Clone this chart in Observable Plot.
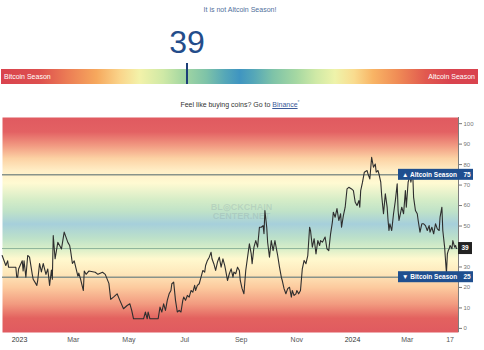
<!DOCTYPE html>
<html><head><meta charset="utf-8">
<script src="https://cdn.jsdelivr.net/npm/d3@7"></script>
<script src="https://cdn.jsdelivr.net/npm/@observablehq/plot@0.6"></script>
<style>
body{margin:0;background:#fff;font-family:Arial,"Liberation Sans",sans-serif;width:484px;height:350px;overflow:hidden}
#head{position:relative;height:112px;width:484px}
.t1{position:absolute;top:5px;left:0;width:480px;text-align:center;font-size:7px;color:#4f6f9c;line-height:10px}
.big{position:absolute;top:26px;font-size:32px;line-height:32px;color:#234c8a;transform:translateX(-50%)}
.bar{position:absolute;top:69px;left:1px;width:477px;height:15px;
 background:linear-gradient(to right,#d9434e 0%,#dd4f4e 8%,#ec7d55 14%,#f6a85d 20%,#fad58b 25%,#f3f2a9 29%,#cfe9a6 34%,#a6d8a2 38%,#7ec3a8 43%,#55a7b8 47%,#3f95c1 50%,#55a7b8 53%,#7ec3a8 57%,#a6d8a2 62%,#cfe9a6 66%,#eef3aa 70%,#f9dc8f 74%,#f8b465 78%,#f08d56 83%,#e1594f 89%,#d9434e 94%,#d9434e 100%)}
.bar span{position:absolute;top:0;font-size:7px;line-height:15px;color:#fff}
.bar .l{left:3px}.bar .r{right:3px}
.marker{position:absolute;top:63px;width:2px;height:21px;background:#1c3f78;transform:translateX(-50%)}
.t2{position:absolute;top:97px;left:0;width:480px;text-align:center;font-size:7px;color:#333;line-height:10px}
.t2 u{color:#3a5a99}
.t2 sup{font-size:5px;color:#6a8ab0}
#chart svg{display:block}
</style></head><body>
<div id="head">
 <div class="t1">It is not Altcoin Season!</div>
 <div class="big" id="big"></div>
 <div class="bar"><span class="l">Bitcoin Season</span><span class="r">Altcoin Season</span></div>
 <div class="marker" id="marker"></div>
 <div class="t2">Feel like buying coins? Go to <u>Binance</u><sup>*</sup></div>
</div>
<div id="chart"></div>
<script>
const dates = ["2022-12-13","2022-12-17","2022-12-19","2022-12-20","2022-12-28","2022-12-29","2022-12-30","2022-12-31",
"2023-01-04","2023-01-05","2023-01-06","2023-01-08","2023-01-10","2023-01-12","2023-01-15","2023-01-16","2023-01-20","2023-01-21","2023-01-23","2023-01-25","2023-01-27","2023-01-30",
"2023-02-01","2023-02-03","2023-02-05","2023-02-06","2023-02-07","2023-02-09","2023-02-12","2023-02-14","2023-02-16","2023-02-19","2023-02-23","2023-02-25","2023-02-26","2023-02-28",
"2023-03-02","2023-03-06","2023-03-07","2023-03-09","2023-03-12","2023-03-13","2023-03-15","2023-03-18","2023-03-25","2023-03-28",
"2023-04-02","2023-04-05","2023-04-09","2023-04-11","2023-04-14","2023-04-18","2023-04-21","2023-04-25","2023-04-29",
"2023-05-02","2023-05-04","2023-05-06","2023-05-17","2023-05-19","2023-05-21","2023-05-22","2023-05-24",
"2023-06-02","2023-06-04","2023-06-06","2023-06-08","2023-06-10","2023-06-12","2023-06-14","2023-06-16","2023-06-17","2023-06-19","2023-06-21","2023-06-23","2023-06-25","2023-06-27","2023-06-29","2023-06-30",
"2023-07-02","2023-07-04","2023-07-06","2023-07-08","2023-07-10","2023-07-12","2023-07-13","2023-07-15","2023-07-17","2023-07-19","2023-07-21","2023-07-23","2023-07-24","2023-07-26","2023-07-28","2023-07-30","2023-07-31",
"2023-08-02","2023-08-04","2023-08-06","2023-08-08","2023-08-10","2023-08-12","2023-08-14","2023-08-15","2023-08-17","2023-08-19","2023-08-21","2023-08-23","2023-08-24","2023-08-26","2023-08-28","2023-08-30","2023-08-31",
"2023-09-02","2023-09-04","2023-09-06","2023-09-08","2023-09-10","2023-09-12","2023-09-13","2023-09-15","2023-09-17","2023-09-19","2023-09-21","2023-09-23","2023-09-25","2023-09-26","2023-09-27","2023-09-29","2023-09-30",
"2023-10-02","2023-10-04","2023-10-06","2023-10-08","2023-10-10","2023-10-11","2023-10-13","2023-10-15","2023-10-16","2023-10-18","2023-10-20","2023-10-22","2023-10-24","2023-10-26","2023-10-27","2023-10-29","2023-10-31",
"2023-11-01","2023-11-03","2023-11-05","2023-11-07","2023-11-09","2023-11-11","2023-11-13","2023-11-15","2023-11-16","2023-11-18","2023-11-20","2023-11-22","2023-11-24","2023-11-26","2023-11-27","2023-11-29","2023-11-30",
"2023-12-02","2023-12-04","2023-12-06","2023-12-08","2023-12-10","2023-12-11","2023-12-13","2023-12-15","2023-12-17","2023-12-19","2023-12-20","2023-12-22","2023-12-24","2023-12-26","2023-12-28","2023-12-31",
"2024-01-02","2024-01-04","2024-01-06","2024-01-08","2024-01-09","2024-01-10","2024-01-12","2024-01-14","2024-01-17","2024-01-18","2024-01-20","2024-01-22","2024-01-24","2024-01-26","2024-01-27","2024-01-29","2024-01-30",
"2024-02-01","2024-02-02","2024-02-04","2024-02-05","2024-02-06","2024-02-08","2024-02-09","2024-02-10","2024-02-11","2024-02-13","2024-02-15","2024-02-17","2024-02-19","2024-02-20","2024-02-21","2024-02-24","2024-02-26","2024-02-28","2024-02-29",
"2024-03-02","2024-03-04","2024-03-05","2024-03-07","2024-03-08","2024-03-10","2024-03-12","2024-03-13","2024-03-15","2024-03-17","2024-03-19","2024-03-21","2024-03-23","2024-03-25","2024-03-26","2024-03-28","2024-03-30",
"2024-04-01","2024-04-03","2024-04-05","2024-04-06","2024-04-08","2024-04-09","2024-04-11","2024-04-12","2024-04-13","2024-04-14","2024-04-15","2024-04-16","2024-04-17","2024-04-19","2024-04-20","2024-04-22","2024-04-23","2024-04-24"];
const values = [35.6,30.7,33,29.9,29.9,25,25,29,
33,28,33,25,35.6,34.8,26.4,24,21,23.5,31.7,27.6,31.7,26.4,
29,21,28.5,24,45.4,34,42,40.5,38.8,47,42,40.5,38,31.7,
33,25.5,27,24,18.5,28,26.4,28,27.4,26.4,
27.4,26.4,22,14.2,15.3,16.9,13.7,9.6,11.2,
12,8.8,4.7,4.7,8,4.7,8,4.7,
4.7,10.4,8,12,8.8,13.7,16.9,18.5,21.8,22.6,13.7,8,8.8,8,13.7,15.3,
13.7,16.1,15.3,18.5,17.7,21,18.5,21,21.8,25,28.3,27.5,30.7,33.2,34.8,37.2,34,
31.6,28.3,32.4,34.8,29.9,34,30.7,28.3,23.4,26.7,29.1,25,27.5,26.7,29.9,28.3,23.4,
19.4,16.9,28.3,34.8,41.3,36.4,31.6,39.7,42.9,39.7,49.4,49.4,50.2,46.2,57.6,49.4,42.1,
34.8,42.9,38,42.9,38,35.6,29.9,25,23.4,19.4,16.9,19.4,20.1,15.3,18.5,16.1,16.9,
18.5,16.9,18.5,29.1,33.2,31.6,35.6,49.4,47.8,39.7,43.8,36.4,42.9,40.5,42.9,42.1,42.9,
44.6,38.9,38,46.2,52,56.7,54.3,58.5,52.7,56,49.4,55.1,59.2,68.1,68.9,68.1,
67.3,61.6,60,62.4,59.2,67.3,71.4,76.3,77.1,75.5,73,83.6,78.7,80.3,76.3,77.1,75.5,
71.4,64.9,56,60.8,65.7,59.2,52.7,47.8,51.1,47.8,56,62.4,70.6,57.6,52.7,59.2,56,67.3,59.2,
71.4,74.6,71.4,76.3,64,57.6,56,52.7,47,51.1,51.1,50.2,47.8,50.2,47,49.4,46.2,
51.1,48.6,47.8,54.3,59.2,47.8,39.7,33.2,27,36.4,38,38.9,40.5,38.9,42.9,39.7,40.5,39];

const currentValue = 39;
const thresholds = [75, 25];
const thresholdLabels = ["▲ Altcoin Season", "▼ Bitcoin Season"];
const yTicks = [0,10,20,30,40,50,60,70,80,90,100];
const xTickDates = ["2023-01-01","2023-03-01","2023-05-01","2023-07-01","2023-09-01","2023-11-01","2024-01-01","2024-03-01","2024-04-17"];
const xTickLabels = ["2023","Mar","May","Jul","Sep","Nov","2024","Mar","17"];
const xDomain = [new Date("2022-12-13T09:00Z"), new Date("2024-04-26T05:00Z")];
const yDomain = [-2, 103];
// background gradient stops: [value, colour]
const bgStops = [[103,"#e05a60"],[96,"#e36163"],[89,"#f29c83"],[83,"#fcd2a4"],[77,"#ffeec6"],[71,"#fffad2"],[63,"#d6edc7"],[57,"#bfe2c8"],[51,"#a6cfdb"],[44,"#bde1c9"],[39,"#d8eec8"],[34,"#fff9cf"],[27,"#fee8bb"],[20,"#fcca9e"],[12,"#f29b80"],[5,"#e3625f"],[-2,"#e05a60"]];

// header
document.getElementById("big").textContent = currentValue;
document.getElementById("big").style.left = (1 + 477*currentValue/100) + "px";
document.getElementById("marker").style.left = (1 + 477*currentValue/100) + "px";

const rows = dates.map((d,i)=>({date:new Date(d), value:values[i]}));
const xTicks = xTickDates.map((d,i)=>({date:new Date(d), label:xTickLabels[i], year:/^\d{4}$/.test(xTickLabels[i])}));

const chart = Plot.plot({
  width:484, height:238, marginTop:5, marginBottom:18, marginLeft:2, marginRight:26,
  style:{fontFamily:"Arial, 'Liberation Sans', sans-serif", background:"transparent"},
  x:{type:"utc", domain:xDomain, axis:null},
  y:{domain:yDomain, axis:null},
  marks:[
    Plot.frame({fill:"url(#bg)", stroke:null}),
    Plot.text(["BL◎CKCHAIN\nCENTER.NET"], {frameAnchor:"middle", dx:11, dy:-13, fontSize:9, fontWeight:"bold", fill:"#7f969f", fillOpacity:0.25, lineHeight:1.0}),
    Plot.ruleY(thresholds, {stroke:"#88938a", strokeWidth:1.5}),
    Plot.ruleY([currentValue], {stroke:"#8db39a", strokeWidth:1}),
    Plot.line(rows, {x:"date", y:"value", stroke:"#2e2e2e", strokeWidth:1.1}),
    Plot.ruleX([xDomain[1]], {stroke:"#7d7d7d", strokeWidth:1}),
    Plot.axisY({anchor:"right", label:null, ticks:yTicks, tickSize:3, tickPadding:2, fontSize:6, color:"#777",
      tickFormat:d=>Math.abs(d-currentValue)<5 ? "" : d}),
    Plot.text(xTicks, {x:"date", text:"label", frameAnchor:"bottom", dy:9, fontSize:7,
      fill:d=>d.year?"#333":"#555", fontWeight:d=>d.year?"bold":"normal"})
  ]
});
document.getElementById("chart").appendChild(chart);

// gradient definition
const svg = d3.select(chart);
const defs = svg.insert("defs", ":first-child");
const lg = defs.append("linearGradient").attr("id","bg").attr("x1",0).attr("y1",0).attr("x2",0).attr("y2",1);
bgStops.forEach(([v,c])=>lg.append("stop").attr("offset",(yDomain[1]-v)/(yDomain[1]-yDomain[0])).attr("stop-color",c));

// labels on the right edge
const ys = chart.scale("y"), xs = chart.scale("x");
const xr = xs.range[1];
const g = svg.append("g").attr("font-family","Arial, 'Liberation Sans', sans-serif").attr("text-anchor","start");
thresholds.forEach((v,i)=>{
  const y = ys.apply(v);
  g.append("rect").attr("x",xr-60).attr("y",y-5.5).attr("width",75).attr("height",11).attr("fill","#1f4f8f");
  g.append("text").attr("x",xr-56).attr("y",y).attr("dy","0.35em").attr("text-anchor","start").attr("fill","#fff").attr("font-size",6.5).attr("font-weight","bold").text(thresholdLabels[i]);
  g.append("text").attr("x",xr+9).attr("y",y).attr("dy","0.35em").attr("text-anchor","middle").attr("fill","#fff").attr("font-size",6.5).attr("font-weight","bold").text(v);
});
{
  const y = ys.apply(currentValue);
  g.append("rect").attr("x",xr).attr("y",y-6).attr("width",14).attr("height",12).attr("fill","#222");
  g.append("text").attr("x",xr+7).attr("y",y).attr("dy","0.35em").attr("text-anchor","middle").attr("fill","#fff").attr("font-size",6.5).attr("font-weight","bold").text(currentValue);
}
</script>
</body></html>
